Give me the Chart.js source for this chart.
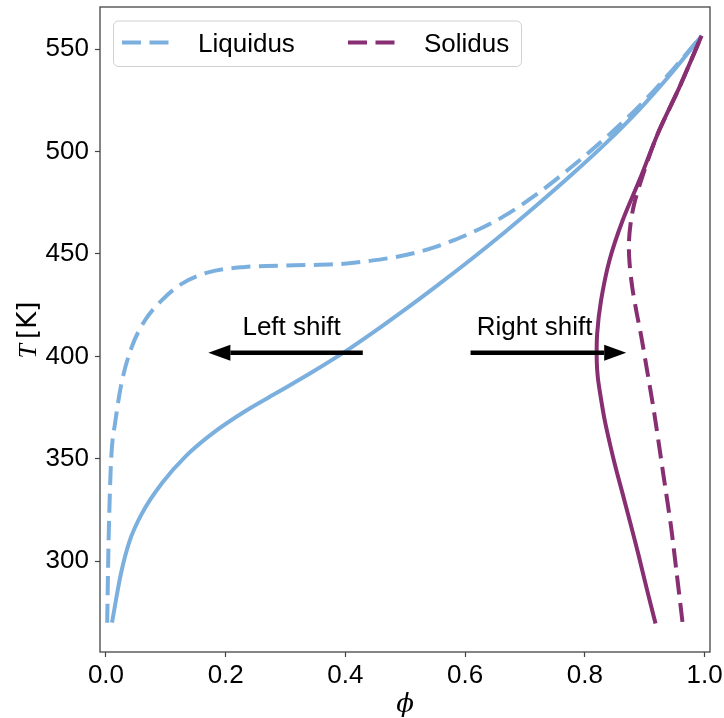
<!DOCTYPE html>
<html>
<head>
<meta charset="utf-8">
<script src="https://cdn.jsdelivr.net/npm/chart.js@4.4.1/dist/chart.umd.min.js"></script>
<style>
  html, body { margin: 0; padding: 0; background: #fff; }
</style>
</head>
<body>
<canvas id="myChart" width="724" height="718"></canvas>
<script>
// Liquidus, original curve (solid)
const liquidusPhi = [0.010, 0.025, 0.039, 0.061, 0.094, 0.133, 0.178, 0.233, 0.289, 0.344, 0.400, 0.447, 0.497, 0.552, 0.608, 0.664, 0.719, 0.780, 0.836, 0.892, 0.947, 0.995];
const liquidusT   = [270, 294, 309.5, 323.8, 338.3, 351.2, 362.4, 373.3, 382.8, 392.2, 402.4, 411.8, 422.3, 434.3, 446.9, 460.1, 473.6, 489.2, 504.3, 520.8, 539, 556.5];

// Liquidus, shifted curve (dashed)
const liquidusShiftPhi = [0.002, 0.004, 0.007, 0.0095, 0.015, 0.026, 0.043, 0.065, 0.093, 0.127, 0.171, 0.232, 0.315, 0.398, 0.441, 0.482, 0.520, 0.552, 0.608, 0.664, 0.719, 0.780, 0.836, 0.892, 0.947, 0.995];
const liquidusShiftT   = [270, 305, 338, 354, 367, 387, 404.5, 417.5, 427.3, 435.5, 441, 443.6, 444.4, 445.2, 446.6, 448.4, 450.8, 453.5, 460, 468.3, 479, 493, 507, 522.5, 540, 556.5];

// Solidus, original curve (solid)
const solidusPhi = [0.918, 0.903, 0.889, 0.876, 0.863, 0.852, 0.843, 0.833, 0.8255, 0.8215, 0.8198, 0.8205, 0.827, 0.841, 0.863, 0.891, 0.924, 0.958, 0.995];
const solidusT   = [269.6, 287, 303.8, 318.5, 333, 345, 355.8, 369, 381.8, 390, 398, 411.1, 427.3, 446.8, 466.3, 485.9, 510.2, 531.4, 556.5];

// Solidus, shifted curve (dashed)
const solidusShiftPhi = [0.963, 0.953, 0.944, 0.930, 0.916, 0.902, 0.894, 0.886, 0.879, 0.8745, 0.8735, 0.876, 0.882, 0.893, 0.909, 0.924, 0.958, 0.995];
const solidusShiftT   = [270.4, 295, 316.7, 344.4, 372, 396.4, 410, 422, 434, 446, 455, 464, 474, 485, 498.9, 510.2, 531.4, 556.5];

// Axis ticks
const phiTicks = [0.0, 0.2, 0.4, 0.6, 0.8, 1.0];
const tTicks = [300, 350, 400, 450, 500, 550];

// Shift annotations (data units)
const shiftLabels = ['Left shift', 'Right shift'];
const shiftFrom = [0.429, 0.609];
const shiftTo = [0.171, 0.869];
const shiftT = 401.8;
const shiftLabelPhi = [0.31, 0.716];
const shiftLabelT = 410.2;

const BLUE = '#7BAFDE';
const PURPLE = '#882E72';
const DASH = [19, 8.5];
const SANS = "'Liberation Sans', Arial, sans-serif";

const toPoints = (phi, T) => phi.map((p, i) => ({ x: p, y: T[i] }));

// blue curves rise monotonically in phi, purple ones bend back
function lineSet(label, phi, T, color, dashed, monotone) {
    return {
        label,
        data: toPoints(phi, T),
        borderColor: color,
        borderWidth: 4,
        borderDash: dashed ? DASH : [],
        borderCapStyle: 'butt',
        pointRadius: 0,
        tension: monotone ? 0 : 0.3,
        cubicInterpolationMode: monotone ? 'monotone' : 'default',
        fill: false,
        inLegend: dashed
    };
}

// Frame around the plot area (all four spines)
const framePlugin = {
    id: 'frame',
    afterDatasetsDraw(chart) {
        const { ctx, chartArea: a } = chart;
        ctx.save();
        ctx.strokeStyle = '#444';
        ctx.lineWidth = 1.3;
        ctx.strokeRect(a.left, a.top, a.right - a.left, a.bottom - a.top);
        ctx.restore();
    }
};

// Arrows and their labels
const shiftPlugin = {
    id: 'shifts',
    afterDatasetsDraw(chart) {
        const { ctx, scales: { x, y } } = chart;
        ctx.save();
        shiftLabels.forEach((text, i) => {
            const x0 = x.getPixelForValue(shiftFrom[i]);
            const x1 = x.getPixelForValue(shiftTo[i]);
            const yy = y.getPixelForValue(shiftT);
            const dir = Math.sign(x1 - x0);
            const headLen = 22, headHalf = 8;
            ctx.strokeStyle = '#000';
            ctx.fillStyle = '#000';
            ctx.lineWidth = 4.5;
            ctx.beginPath();
            ctx.moveTo(x0, yy);
            ctx.lineTo(x1 - dir * headLen, yy);
            ctx.stroke();
            ctx.beginPath();
            ctx.moveTo(x1, yy);
            ctx.lineTo(x1 - dir * headLen, yy - headHalf);
            ctx.lineTo(x1 - dir * headLen, yy + headHalf);
            ctx.closePath();
            ctx.fill();

            ctx.font = '26px ' + SANS;
            ctx.textAlign = 'center';
            ctx.textBaseline = 'alphabetic';
            ctx.fillText(text, x.getPixelForValue(shiftLabelPhi[i]), y.getPixelForValue(shiftLabelT));
        });
        ctx.restore();
    }
};

// Legend box with dashed handles, plus the y axis title
const legendPlugin = {
    id: 'boxLegend',
    afterDraw(chart) {
        const ctx = chart.ctx;
        ctx.save();
        ctx.beginPath();
        ctx.roundRect(113.5, 21, 408, 45.5, 5);
        ctx.fillStyle = 'rgba(255,255,255,0.8)';
        ctx.fill();
        ctx.strokeStyle = '#d0d0d0';
        ctx.lineWidth = 1;
        ctx.stroke();

        const items = chart.data.datasets.filter(d => d.inLegend).reverse();
        const starts = [122, 348];
        items.forEach((d, i) => {
            const hx = starts[i], hy = 42.5;
            ctx.strokeStyle = d.borderColor;
            ctx.lineWidth = 4;
            ctx.setLineDash(DASH);
            ctx.beginPath();
            ctx.moveTo(hx, hy);
            ctx.lineTo(hx + 50, hy);
            ctx.stroke();
            ctx.setLineDash([]);
            ctx.fillStyle = '#000';
            ctx.font = '26px ' + SANS;
            ctx.textAlign = 'left';
            ctx.textBaseline = 'alphabetic';
            ctx.fillText(d.label, hx + 76, 52);
        });

        // y axis title: italic T, upright [K]
        ctx.translate(36, 330);
        ctx.rotate(-Math.PI / 2);
        const tFont = "italic 26px 'Liberation Serif', serif";
        const kFont = "26px 'DejaVu Sans', sans-serif";
        ctx.font = tFont;
        const wT = ctx.measureText('T').width;
        ctx.font = kFont;
        const wK = ctx.measureText('[K]').width;
        const gap = 5;
        const start = -(wT + gap + wK) / 2;
        ctx.fillStyle = '#000';
        ctx.textAlign = 'left';
        ctx.textBaseline = 'alphabetic';
        ctx.font = tFont;
        ctx.fillText('T', start, 0);
        ctx.font = kFont;
        ctx.fillText('[K]', start + wT + gap, 0);
        ctx.restore();
    }
};

const ctx = document.getElementById('myChart').getContext('2d');
new Chart(ctx, {
    type: 'line',
    data: {
        datasets: [
            lineSet('Solidus', solidusShiftPhi, solidusShiftT, PURPLE, true, false),
            lineSet('Solidus original', solidusPhi, solidusT, PURPLE, false, false),
            lineSet('Liquidus', liquidusShiftPhi, liquidusShiftT, BLUE, true, true),
            lineSet('Liquidus original', liquidusPhi, liquidusT, BLUE, false, true)
        ]
    },
    options: {
        responsive: false,
        animation: false,
        devicePixelRatio: 1,
        layout: { padding: { top: 7, right: 14, left: 0, bottom: 0 } },
        plugins: { legend: { display: false }, tooltip: { enabled: false } },
        scales: {
            x: {
                type: 'linear',
                min: -0.01,
                max: 1.009,
                afterBuildTicks: s => { s.ticks = phiTicks.map(v => ({ value: v })); },
                afterFit: s => { s.height = 66; s.paddingLeft = 0; s.paddingRight = 0; },
                border: { display: false },
                grid: { drawOnChartArea: false, drawTicks: true, tickLength: 5, tickColor: '#444', tickWidth: 1.2 },
                ticks: {
                    color: '#000', autoSkip: false, maxRotation: 0, padding: 3,
                    font: { family: SANS, size: 26 },
                    callback: v => v.toFixed(1)
                },
                title: {
                    display: true, text: 'ϕ', color: '#000', padding: 0,
                    font: { family: "'DejaVu Serif', serif", style: 'italic', size: 26, lineHeight: 1 }
                }
            },
            y: {
                type: 'linear',
                min: 255.7,
                max: 570.5,
                afterBuildTicks: s => { s.ticks = tTicks.map(v => ({ value: v })); },
                afterFit: s => { s.width = 100; s.paddingTop = 0; s.paddingBottom = 0; },
                border: { display: false },
                grid: { drawOnChartArea: false, drawTicks: true, tickLength: 5, tickColor: '#444', tickWidth: 1.2 },
                ticks: {
                    color: '#000', autoSkip: false, padding: 6,
                    font: { family: SANS, size: 26 },
                    callback: v => String(v)
                },
                title: { display: false }
            }
        }
    },
    plugins: [framePlugin, shiftPlugin, legendPlugin]
});
</script>
</body>
</html>
